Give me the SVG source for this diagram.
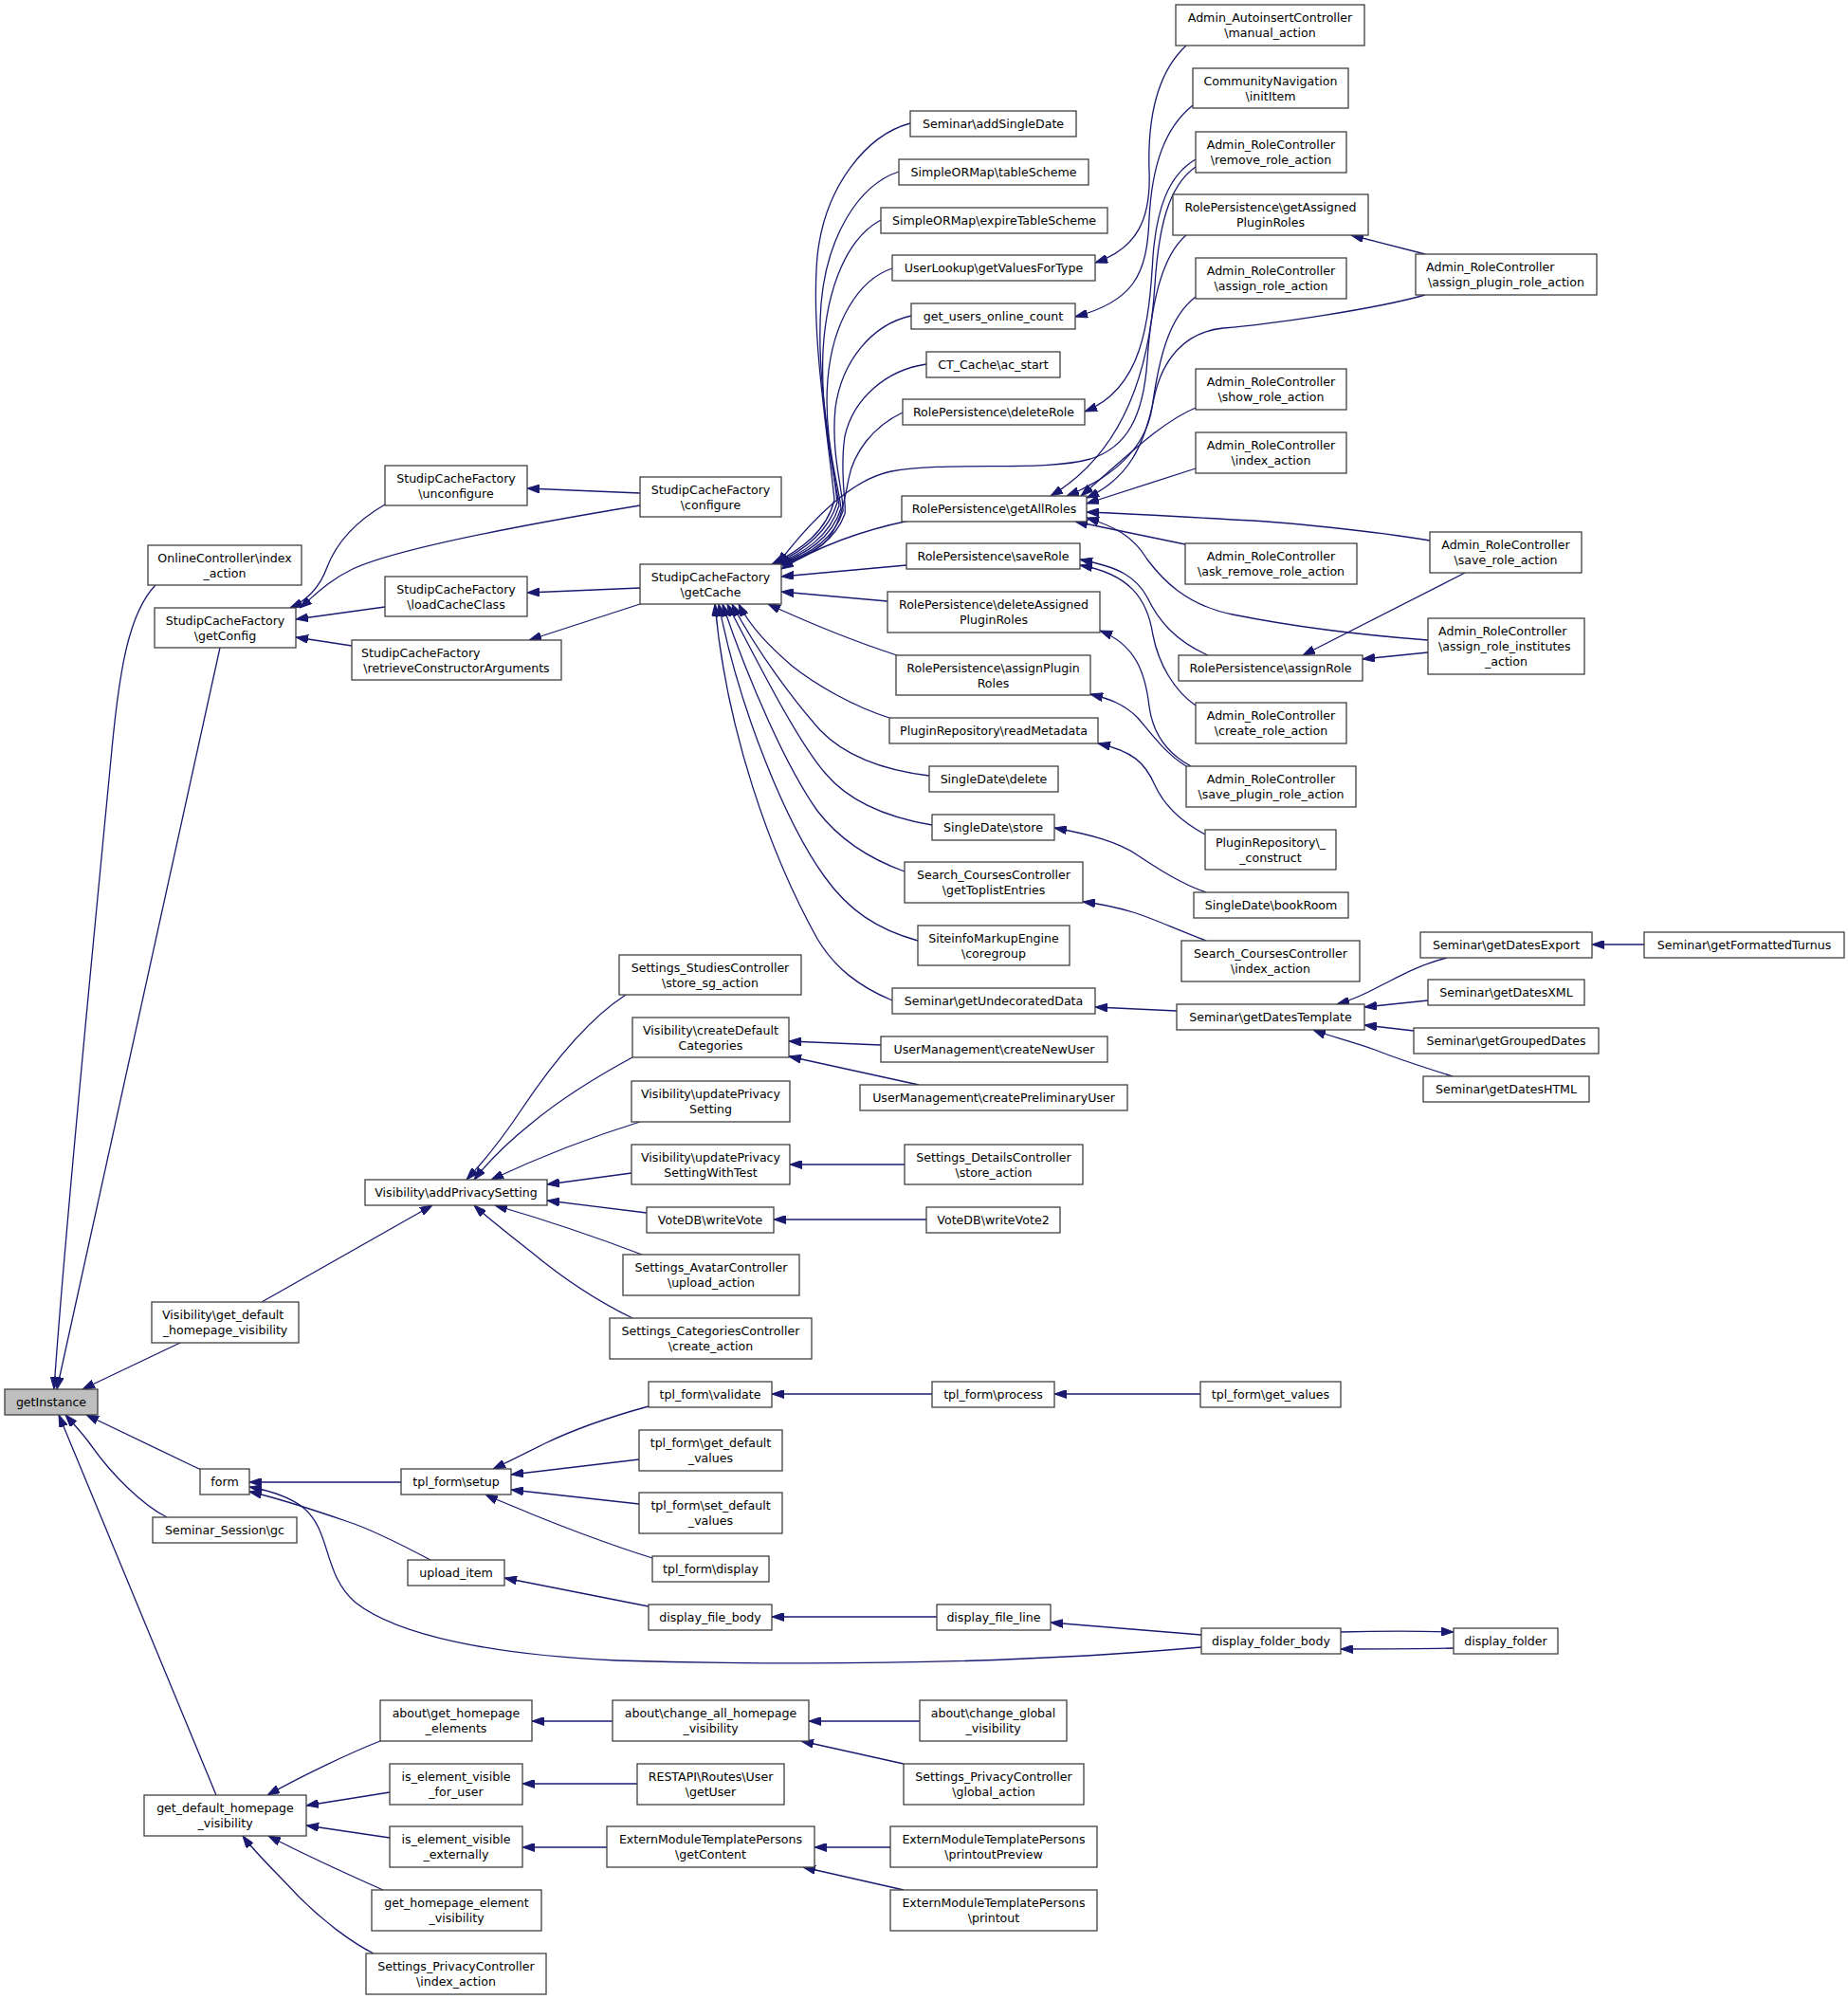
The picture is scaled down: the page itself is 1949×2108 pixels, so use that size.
<svg xmlns="http://www.w3.org/2000/svg" width="1949" height="2108" viewBox="0 0 1949 2108">
<style>
.n rect{fill:#fff;stroke:#404040;stroke-width:1.3}
.root rect{fill:#bfbfbf}
text{font-family:"DejaVu Sans","Liberation Sans",sans-serif;font-size:12.6px;fill:#000;text-anchor:middle}
text.l{text-anchor:start}
.e path{fill:none;stroke:#191970;stroke-width:1.3;marker-end:url(#a)}
</style>
<defs>
<marker id="a" viewBox="0 0 13 9" refX="13" refY="4.5" markerWidth="13" markerHeight="9" markerUnits="userSpaceOnUse" orient="auto">
<path d="M0,0 L13,4.5 L0,9 z" fill="#191970" stroke="#191970" stroke-width="1"/>
</marker>
</defs>
<rect x="0" y="0" width="1949" height="2108" fill="#fff"/>
<g id="edges" class="e">
<path d="M164,617 C136,646 126,706 118,790 C98,1000 68,1300 57,1465"/>
<path d="M232,683 L60,1465"/>
<path d="M190,1416 L87,1465"/>
<path d="M212,1550 L91,1492"/>
<path d="M176,1600 C150,1587 118,1555 96,1524 C86,1510 76,1500 69,1492"/>
<path d="M228,1893 L62,1492"/>
<path d="M406,532 C375,550 355,572 345,598 C337,620 322,634 306,641"/>
<path d="M675,533 C560,552 420,578 372,600 C345,613 330,630 316,641"/>
<path d="M406,640 L312,653"/>
<path d="M371,681 L312,672"/>
<path d="M675,520 L556,515"/>
<path d="M675,620 L556,625"/>
<path d="M675,637 L558,675"/>
<path d="M960,130 C915,142 870,195 862,270 C855,350 872,450 880,527 C872,560 845,580 814,595"/>
<path d="M948,181 C905,195 872,250 866,320 C860,400 878,480 883,530 C873,563 846,582 816,595"/>
<path d="M929,232 C895,250 872,300 868,370 C865,440 880,500 885,533 C875,566 848,583 818,595"/>
<path d="M941,283 C905,295 878,340 873,400 C868,460 884,510 887,536 C877,568 850,584 820,595"/>
<path d="M961,333 C920,342 888,380 881,430 C876,480 890,520 889,539 C879,570 852,586 821,595"/>
<path d="M977,384 C935,390 900,420 891,460 C885,500 893,530 891,542 C880,572 853,587 822,595"/>
<path d="M952,435 C920,450 900,478 895,505 C890,532 885,558 868,574 C855,585 840,591 823,596"/>
<path d="M959,549 C920,557 870,572 824,600"/>
<path d="M956,596 L824,608"/>
<path d="M936,634 L824,624"/>
<path d="M946,691 C900,676 860,660 810,637"/>
<path d="M938,757 C900,745 860,722 835,702 C812,682 792,662 779,637"/>
<path d="M980,818 C930,812 890,796 865,770 C840,742 800,690 772,637"/>
<path d="M983,870 C935,862 895,845 870,815 C840,780 800,700 767,637"/>
<path d="M954,919 C915,905 885,885 862,855 C830,810 790,720 762,637"/>
<path d="M968,992 C925,980 895,960 870,925 C830,870 780,750 758,637"/>
<path d="M941,1055 C905,1040 880,1020 862,990 C812,900 766,770 754,637"/>
<path d="M1251,248 C1225,270 1214,320 1210,380 C1206,440 1188,472 1150,484 C1100,498 1000,486 940,497 C900,505 858,545 820,595"/>
<path d="M1261,168 C1232,185 1220,220 1216,270 C1212,340 1205,410 1144,434"/>
<path d="M1261,176 C1232,196 1222,240 1218,300 C1212,400 1180,480 1108,523"/>
<path d="M1251,48 C1222,75 1210,120 1212,180 C1214,230 1200,262 1155,277"/>
<path d="M1258,111 C1228,135 1215,175 1212,230 C1210,290 1195,318 1134,334"/>
<path d="M1261,313 C1232,335 1222,380 1215,430 C1208,475 1170,505 1125,523"/>
<path d="M1261,430 C1225,445 1190,480 1140,523"/>
<path d="M1261,494 L1146,531"/>
<path d="M1503,311 C1450,326 1340,342 1290,346 C1250,350 1226,378 1217,420 C1207,470 1190,505 1146,525"/>
<path d="M1250,574 L1134,550"/>
<path d="M1508,570 C1450,560 1350,550 1300,548 C1250,545 1200,542 1146,540"/>
<path d="M1506,675 C1440,670 1360,660 1300,648 C1250,638 1225,610 1210,590 C1195,565 1175,555 1146,546"/>
<path d="M1545,604 L1374,691"/>
<path d="M1506,688 L1437,695"/>
<path d="M1503,268 L1425,248"/>
<path d="M1274,691 C1240,676 1222,655 1210,630 C1198,608 1180,598 1139,590"/>
<path d="M1261,744 C1238,728 1222,700 1216,670 C1210,630 1190,605 1139,596"/>
<path d="M1256,808 C1232,795 1216,775 1212,745 C1208,710 1198,680 1160,665"/>
<path d="M1251,808 C1230,795 1215,775 1200,757 C1185,742 1170,737 1150,732"/>
<path d="M1271,880 C1245,866 1228,850 1218,828 C1208,805 1195,792 1158,784"/>
<path d="M1272,941 C1245,932 1220,915 1200,902 C1180,888 1150,880 1112,873"/>
<path d="M1272,992 C1240,980 1215,968 1195,962 C1175,956 1160,953 1142,951"/>
<path d="M1241,1066 L1155,1062"/>
<path d="M1526,1010 C1495,1018 1475,1030 1455,1040 C1440,1048 1425,1055 1410,1059"/>
<path d="M1734,996 L1679,996"/>
<path d="M1506,1055 L1439,1062"/>
<path d="M1491,1087 L1439,1081"/>
<path d="M1532,1135 C1500,1125 1470,1115 1450,1107 C1425,1098 1400,1092 1385,1086"/>
<path d="M276,1373 L456,1271"/>
<path d="M660,1049 C620,1075 580,1125 550,1170 C530,1200 510,1225 492,1244"/>
<path d="M667,1115 C630,1135 590,1160 560,1185 C535,1205 515,1225 500,1244"/>
<path d="M675,1183 C620,1200 565,1222 518,1244"/>
<path d="M666,1237 L577,1249"/>
<path d="M682,1279 L577,1266"/>
<path d="M677,1323 C630,1305 570,1285 522,1271"/>
<path d="M667,1390 C630,1372 590,1345 560,1320 C535,1300 515,1285 500,1271"/>
<path d="M929,1102 L832,1098"/>
<path d="M969,1144 L832,1114"/>
<path d="M954,1228 L833,1228"/>
<path d="M977,1286 L816,1286"/>
<path d="M423,1563 L263,1563"/>
<path d="M454,1645 C420,1627 390,1612 365,1604 C330,1592 295,1580 263,1573"/>
<path d="M1267,1737 C1100,1752 900,1758 650,1751 C520,1745 420,1725 375,1690 C340,1660 350,1615 320,1590 C305,1578 285,1572 263,1568"/>
<path d="M684,1483 C640,1495 600,1510 575,1522 C555,1532 535,1542 520,1549"/>
<path d="M674,1539 L539,1555"/>
<path d="M674,1586 L539,1571"/>
<path d="M688,1643 C640,1628 580,1605 545,1590 C530,1584 520,1580 512,1576"/>
<path d="M983,1470 L814,1470"/>
<path d="M1266,1470 L1112,1470"/>
<path d="M684,1694 L532,1664"/>
<path d="M988,1705 L814,1705"/>
<path d="M1267,1724 L1108,1711"/>
<path d="M1414,1721 C1450,1720 1500,1720 1533,1721"/>
<path d="M1533,1738 C1500,1739 1450,1739 1414,1739"/>
<path d="M401,1836 C370,1848 320,1872 282,1893"/>
<path d="M411,1890 L323,1904"/>
<path d="M411,1938 L323,1925"/>
<path d="M404,1993 C370,1978 320,1955 283,1936"/>
<path d="M394,2060 C370,2048 340,2025 315,2000 C295,1978 270,1955 256,1936"/>
<path d="M646,1815 L561,1815"/>
<path d="M970,1815 L853,1815"/>
<path d="M953,1860 L845,1836"/>
<path d="M672,1881 L551,1881"/>
<path d="M640,1948 L551,1948"/>
<path d="M939,1948 L859,1948"/>
<path d="M953,1993 L847,1969"/>
</g>
<g id="n_getInstance" class="n root"><rect x="5" y="1465" width="98" height="27"/><text x="54" y="1483">getInstance</text></g>
<g id="n_online" class="n"><rect x="156" y="575" width="162" height="42"/><text x="237" y="593">OnlineController\index</text><text x="237" y="609">_action</text></g>
<g id="n_getConfig" class="n"><rect x="163" y="641" width="149" height="42"/><text x="237.5" y="659">StudipCacheFactory</text><text x="237.5" y="675">\getConfig</text></g>
<g id="n_vis_gdhv" class="n"><rect x="160" y="1373" width="155" height="43"/><text class="l" x="171" y="1391">Visibility\get_default</text><text x="237.5" y="1407">_homepage_visibility</text></g>
<g id="n_form" class="n"><rect x="211" y="1549" width="52" height="27"/><text x="237" y="1567">form</text></g>
<g id="n_ssgc" class="n"><rect x="161" y="1600" width="152" height="27"/><text x="237" y="1618">Seminar_Session\gc</text></g>
<g id="n_gdhv" class="n"><rect x="152" y="1893" width="171" height="43"/><text x="237.5" y="1911">get_default_homepage</text><text x="237.5" y="1927">_visibility</text></g>
<g id="n_unconfigure" class="n"><rect x="406" y="491" width="150" height="42"/><text x="481" y="509">StudipCacheFactory</text><text x="481" y="525">\unconfigure</text></g>
<g id="n_loadCacheClass" class="n"><rect x="406" y="608" width="150" height="42"/><text x="481" y="626">StudipCacheFactory</text><text x="481" y="642">\loadCacheClass</text></g>
<g id="n_retrieve" class="n"><rect x="371" y="675" width="221" height="42"/><text class="l" x="381" y="693">StudipCacheFactory</text><text x="481.5" y="709">\retrieveConstructorArguments</text></g>
<g id="n_addPrivacy" class="n"><rect x="385" y="1244" width="192" height="27"/><text x="481" y="1262">Visibility\addPrivacySetting</text></g>
<g id="n_setup" class="n"><rect x="423" y="1549" width="116" height="27"/><text x="481" y="1567">tpl_form\setup</text></g>
<g id="n_upload_item" class="n"><rect x="430" y="1645" width="102" height="27"/><text x="481" y="1663">upload_item</text></g>
<g id="n_about_ghe" class="n"><rect x="401" y="1793" width="160" height="43"/><text x="481" y="1811">about\get_homepage</text><text x="481" y="1827">_elements</text></g>
<g id="n_ievfu" class="n"><rect x="411" y="1860" width="140" height="43"/><text x="481" y="1878">is_element_visible</text><text x="481" y="1894">_for_user</text></g>
<g id="n_ieve" class="n"><rect x="411" y="1926" width="140" height="43"/><text x="481" y="1944">is_element_visible</text><text x="481" y="1960">_externally</text></g>
<g id="n_ghev" class="n"><rect x="392" y="1993" width="179" height="43"/><text x="481.5" y="2011">get_homepage_element</text><text x="481.5" y="2027">_visibility</text></g>
<g id="n_spc_index" class="n"><rect x="386" y="2060" width="190" height="43"/><text x="481" y="2078">Settings_PrivacyController</text><text x="481" y="2094">\index_action</text></g>
<g id="n_configure" class="n"><rect x="675" y="503" width="149" height="42"/><text x="749.5" y="521">StudipCacheFactory</text><text x="749.5" y="537">\configure</text></g>
<g id="n_getCache" class="n"><rect x="675" y="595" width="149" height="42"/><text x="749.5" y="613">StudipCacheFactory</text><text x="749.5" y="629">\getCache</text></g>
<g id="n_store_sg" class="n"><rect x="653" y="1007" width="192" height="42"/><text x="749" y="1025">Settings_StudiesController</text><text x="749" y="1041">\store_sg_action</text></g>
<g id="n_createDefault" class="n"><rect x="667" y="1073" width="165" height="42"/><text x="749.5" y="1091">Visibility\createDefault</text><text x="749.5" y="1107">Categories</text></g>
<g id="n_updPriv" class="n"><rect x="666" y="1140" width="167" height="43"/><text x="749.5" y="1158">Visibility\updatePrivacy</text><text x="749.5" y="1174">Setting</text></g>
<g id="n_updPrivTest" class="n"><rect x="666" y="1207" width="167" height="42"/><text x="749.5" y="1225">Visibility\updatePrivacy</text><text x="749.5" y="1241">SettingWithTest</text></g>
<g id="n_writeVote" class="n"><rect x="682" y="1273" width="134" height="27"/><text x="749" y="1291">VoteDB\writeVote</text></g>
<g id="n_avatar" class="n"><rect x="657" y="1323" width="186" height="43"/><text x="750" y="1341">Settings_AvatarController</text><text x="750" y="1357">\upload_action</text></g>
<g id="n_categories" class="n"><rect x="643" y="1390" width="213" height="43"/><text x="749.5" y="1408">Settings_CategoriesController</text><text x="749.5" y="1424">\create_action</text></g>
<g id="n_validate" class="n"><rect x="684" y="1457" width="130" height="27"/><text x="749" y="1475">tpl_form\validate</text></g>
<g id="n_getdef" class="n"><rect x="674" y="1508" width="151" height="43"/><text x="749.5" y="1526">tpl_form\get_default</text><text x="749.5" y="1542">_values</text></g>
<g id="n_setdef" class="n"><rect x="674" y="1574" width="151" height="43"/><text x="749.5" y="1592">tpl_form\set_default</text><text x="749.5" y="1608">_values</text></g>
<g id="n_display" class="n"><rect x="688" y="1641" width="123" height="27"/><text x="749.5" y="1659">tpl_form\display</text></g>
<g id="n_dfb" class="n"><rect x="684" y="1692" width="130" height="27"/><text x="749" y="1710">display_file_body</text></g>
<g id="n_cahv" class="n"><rect x="646" y="1793" width="207" height="43"/><text x="749.5" y="1811">about\change_all_homepage</text><text x="749.5" y="1827">_visibility</text></g>
<g id="n_restapi" class="n"><rect x="672" y="1860" width="155" height="43"/><text x="749.5" y="1878">RESTAPI\Routes\User</text><text x="749.5" y="1894">\getUser</text></g>
<g id="n_getContent" class="n"><rect x="640" y="1926" width="219" height="43"/><text x="749.5" y="1944">ExternModuleTemplatePersons</text><text x="749.5" y="1960">\getContent</text></g>
<g id="n_addSingleDate" class="n"><rect x="960" y="117" width="175" height="27"/><text x="1047.5" y="135">Seminar\addSingleDate</text></g>
<g id="n_tableScheme" class="n"><rect x="948" y="168" width="200" height="27"/><text x="1048" y="186">SimpleORMap\tableScheme</text></g>
<g id="n_expireTS" class="n"><rect x="929" y="219" width="239" height="27"/><text x="1048.5" y="237">SimpleORMap\expireTableScheme</text></g>
<g id="n_getValues" class="n"><rect x="941" y="269" width="214" height="27"/><text x="1048" y="287">UserLookup\getValuesForType</text></g>
<g id="n_guoc" class="n"><rect x="961" y="320" width="173" height="27"/><text x="1047.5" y="338">get_users_online_count</text></g>
<g id="n_ctcache" class="n"><rect x="977" y="371" width="141" height="27"/><text x="1047.5" y="389">CT_Cache\ac_start</text></g>
<g id="n_deleteRole" class="n"><rect x="952" y="421" width="192" height="27"/><text x="1048" y="439">RolePersistence\deleteRole</text></g>
<g id="n_getAllRoles" class="n"><rect x="951" y="523" width="195" height="27"/><text x="1048.5" y="541">RolePersistence\getAllRoles</text></g>
<g id="n_saveRole" class="n"><rect x="956" y="573" width="183" height="27"/><text x="1047.5" y="591">RolePersistence\saveRole</text></g>
<g id="n_delAssigned" class="n"><rect x="936" y="624" width="224" height="43"/><text x="1048" y="642">RolePersistence\deleteAssigned</text><text x="1048" y="658">PluginRoles</text></g>
<g id="n_assignPlugin" class="n"><rect x="945" y="691" width="205" height="42"/><text x="1047.5" y="709">RolePersistence\assignPlugin</text><text x="1047.5" y="725">Roles</text></g>
<g id="n_readMetadata" class="n"><rect x="938" y="757" width="220" height="27"/><text x="1048" y="775">PluginRepository\readMetadata</text></g>
<g id="n_sdDelete" class="n"><rect x="980" y="808" width="136" height="27"/><text x="1048" y="826">SingleDate\delete</text></g>
<g id="n_sdStore" class="n"><rect x="983" y="859" width="129" height="27"/><text x="1047.5" y="877">SingleDate\store</text></g>
<g id="n_toplist" class="n"><rect x="954" y="909" width="188" height="43"/><text x="1048" y="927">Search_CoursesController</text><text x="1048" y="943">\getToplistEntries</text></g>
<g id="n_coregroup" class="n"><rect x="968" y="976" width="160" height="42"/><text x="1048" y="994">SiteinfoMarkupEngine</text><text x="1048" y="1010">\coregroup</text></g>
<g id="n_undecorated" class="n"><rect x="941" y="1042" width="214" height="27"/><text x="1048" y="1060">Seminar\getUndecoratedData</text></g>
<g id="n_createNewUser" class="n"><rect x="929" y="1093" width="239" height="27"/><text x="1048.5" y="1111">UserManagement\createNewUser</text></g>
<g id="n_createPrelim" class="n"><rect x="907" y="1144" width="282" height="27"/><text x="1048" y="1162">UserManagement\createPreliminaryUser</text></g>
<g id="n_details" class="n"><rect x="954" y="1207" width="188" height="42"/><text x="1048" y="1225">Settings_DetailsController</text><text x="1048" y="1241">\store_action</text></g>
<g id="n_writeVote2" class="n"><rect x="977" y="1273" width="141" height="27"/><text x="1047.5" y="1291">VoteDB\writeVote2</text></g>
<g id="n_process" class="n"><rect x="983" y="1457" width="129" height="27"/><text x="1047.5" y="1475">tpl_form\process</text></g>
<g id="n_dfl" class="n"><rect x="988" y="1692" width="120" height="27"/><text x="1048" y="1710">display_file_line</text></g>
<g id="n_cgv" class="n"><rect x="970" y="1793" width="155" height="43"/><text x="1047.5" y="1811">about\change_global</text><text x="1047.5" y="1827">_visibility</text></g>
<g id="n_spc_global" class="n"><rect x="953" y="1860" width="190" height="43"/><text x="1048" y="1878">Settings_PrivacyController</text><text x="1048" y="1894">\global_action</text></g>
<g id="n_printoutPreview" class="n"><rect x="939" y="1926" width="218" height="43"/><text x="1048" y="1944">ExternModuleTemplatePersons</text><text x="1048" y="1960">\printoutPreview</text></g>
<g id="n_printout" class="n"><rect x="939" y="1993" width="218" height="43"/><text x="1048" y="2011">ExternModuleTemplatePersons</text><text x="1048" y="2027">\printout</text></g>
<g id="n_manual" class="n"><rect x="1240" y="5" width="199" height="43"/><text x="1339.5" y="23">Admin_AutoinsertController</text><text x="1339.5" y="39">\manual_action</text></g>
<g id="n_initItem" class="n"><rect x="1258" y="72" width="164" height="42"/><text x="1340" y="90">CommunityNavigation</text><text x="1340" y="106">\initItem</text></g>
<g id="n_removeRole" class="n"><rect x="1261" y="139" width="159" height="43"/><text x="1340.5" y="157">Admin_RoleController</text><text x="1340.5" y="173">\remove_role_action</text></g>
<g id="n_getAssigned" class="n"><rect x="1237" y="205" width="206" height="43"/><text x="1340" y="223">RolePersistence\getAssigned</text><text x="1340" y="239">PluginRoles</text></g>
<g id="n_assignRoleAct" class="n"><rect x="1261" y="272" width="159" height="43"/><text x="1340.5" y="290">Admin_RoleController</text><text x="1340.5" y="306">\assign_role_action</text></g>
<g id="n_showRole" class="n"><rect x="1261" y="389" width="159" height="43"/><text x="1340.5" y="407">Admin_RoleController</text><text x="1340.5" y="423">\show_role_action</text></g>
<g id="n_indexAct" class="n"><rect x="1261" y="456" width="159" height="43"/><text x="1340.5" y="474">Admin_RoleController</text><text x="1340.5" y="490">\index_action</text></g>
<g id="n_askRemove" class="n"><rect x="1250" y="573" width="181" height="43"/><text x="1340.5" y="591">Admin_RoleController</text><text x="1340.5" y="607">\ask_remove_role_action</text></g>
<g id="n_assignRole" class="n"><rect x="1243" y="691" width="194" height="27"/><text x="1340" y="709">RolePersistence\assignRole</text></g>
<g id="n_createRole" class="n"><rect x="1261" y="741" width="159" height="43"/><text x="1340.5" y="759">Admin_RoleController</text><text x="1340.5" y="775">\create_role_action</text></g>
<g id="n_savePlugin" class="n"><rect x="1251" y="808" width="179" height="43"/><text x="1340.5" y="826">Admin_RoleController</text><text x="1340.5" y="842">\save_plugin_role_action</text></g>
<g id="n_construct" class="n"><rect x="1271" y="875" width="138" height="42"/><text x="1340" y="893">PluginRepository\_</text><text x="1340" y="909">_construct</text></g>
<g id="n_bookRoom" class="n"><rect x="1259" y="941" width="163" height="27"/><text x="1340.5" y="959">SingleDate\bookRoom</text></g>
<g id="n_searchIndex" class="n"><rect x="1246" y="992" width="188" height="43"/><text x="1340" y="1010">Search_CoursesController</text><text x="1340" y="1026">\index_action</text></g>
<g id="n_datesTemplate" class="n"><rect x="1241" y="1059" width="198" height="27"/><text x="1340" y="1077">Seminar\getDatesTemplate</text></g>
<g id="n_getValuesForm" class="n"><rect x="1266" y="1457" width="148" height="27"/><text x="1340" y="1475">tpl_form\get_values</text></g>
<g id="n_dfob" class="n"><rect x="1267" y="1717" width="147" height="27"/><text x="1340.5" y="1735">display_folder_body</text></g>
<g id="n_assignPluginAct" class="n"><rect x="1493" y="268" width="191" height="43"/><text class="l" x="1504" y="286">Admin_RoleController</text><text x="1588.5" y="302">\assign_plugin_role_action</text></g>
<g id="n_saveRoleAct" class="n"><rect x="1508" y="561" width="160" height="43"/><text x="1588" y="579">Admin_RoleController</text><text x="1588" y="595">\save_role_action</text></g>
<g id="n_institutes" class="n"><rect x="1506" y="652" width="165" height="59"/><text class="l" x="1517" y="670">Admin_RoleController</text><text class="l" x="1517" y="686">\assign_role_institutes</text><text x="1588.5" y="702">_action</text></g>
<g id="n_datesExport" class="n"><rect x="1498" y="983" width="181" height="27"/><text x="1588.5" y="1001">Seminar\getDatesExport</text></g>
<g id="n_datesXML" class="n"><rect x="1506" y="1033" width="165" height="27"/><text x="1588.5" y="1051">Seminar\getDatesXML</text></g>
<g id="n_grouped" class="n"><rect x="1491" y="1084" width="195" height="27"/><text x="1588.5" y="1102">Seminar\getGroupedDates</text></g>
<g id="n_datesHTML" class="n"><rect x="1501" y="1135" width="175" height="27"/><text x="1588.5" y="1153">Seminar\getDatesHTML</text></g>
<g id="n_displayFolder" class="n"><rect x="1533" y="1717" width="110" height="27"/><text x="1588" y="1735">display_folder</text></g>
<g id="n_turnus" class="n"><rect x="1734" y="983" width="211" height="27"/><text x="1839.5" y="1001">Seminar\getFormattedTurnus</text></g>
</svg>
